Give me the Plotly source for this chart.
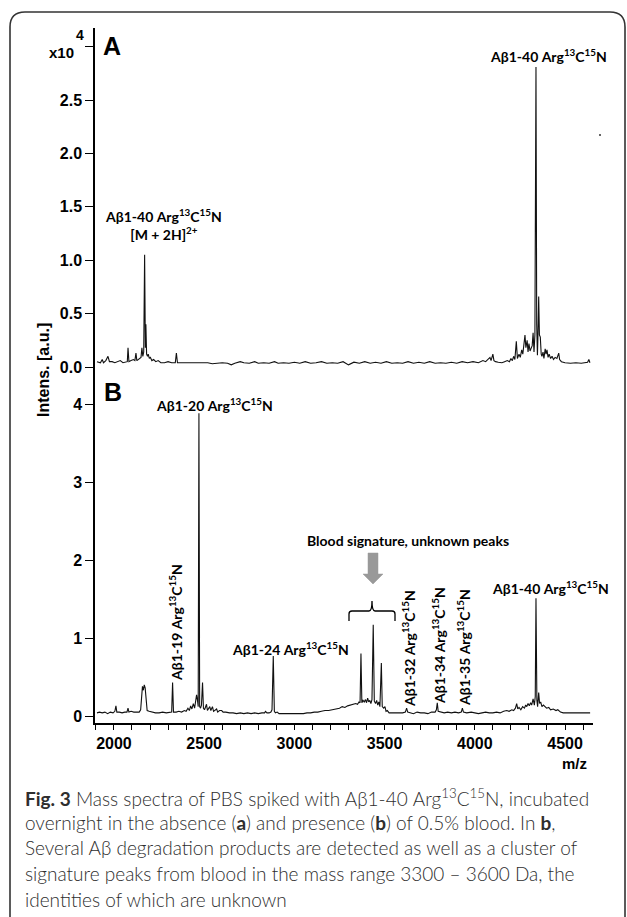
import plotly.graph_objects as go

W, H = 627, 917

# ---------------- data ----------------
# Panel A: intensity in units of 1e4 a.u.
spec_A = [
    (1906, 0.05), (1925, 0.04), (1935, 0.07), (1942, 0.04), (1955, 0.06), (1967, 0.10), (1975, 0.05),
    (1990, 0.05), (2005, 0.04), (2020, 0.05), (2035, 0.06), (2050, 0.04), (2065, 0.05), (2074, 0.05),
    (2078, 0.18), (2083, 0.05), (2095, 0.06), (2108, 0.07), (2116, 0.06), (2122, 0.13), (2127, 0.06),
    (2140, 0.08), (2150, 0.09), (2155, 0.18), (2160, 0.10), (2165, 0.14), (2170, 1.05), (2174, 0.18),
    (2177, 0.40), (2181, 0.12), (2186, 0.10), (2190, 0.12), (2196, 0.08), (2202, 0.09), (2210, 0.06),
    (2220, 0.07), (2232, 0.05), (2245, 0.06), (2260, 0.04), (2280, 0.04), (2300, 0.05), (2320, 0.04),
    (2340, 0.04), (2346, 0.13), (2352, 0.04), (2375, 0.04), (2400, 0.04), (2430, 0.035), (2460, 0.04),
    (2490, 0.035), (2520, 0.04), (2545, 0.03), (2570, 0.035), (2600, 0.04), (2630, 0.035), (2650, 0.02),
    (2670, 0.035), (2700, 0.05), (2720, 0.04), (2750, 0.035), (2780, 0.05), (2800, 0.035), (2830, 0.04),
    (2860, 0.035), (2890, 0.05), (2910, 0.035), (2940, 0.04), (2970, 0.035), (3000, 0.045), (3030, 0.035),
    (3060, 0.05), (3090, 0.035), (3120, 0.04), (3150, 0.05), (3180, 0.035), (3210, 0.04), (3240, 0.035),
    (3270, 0.05), (3300, 0.02), (3330, 0.045), (3360, 0.035), (3390, 0.05), (3420, 0.035), (3450, 0.045),
    (3480, 0.035), (3510, 0.05), (3540, 0.035), (3570, 0.04), (3600, 0.035), (3630, 0.05), (3660, 0.035),
    (3690, 0.045), (3720, 0.035), (3750, 0.05), (3780, 0.035), (3810, 0.04), (3840, 0.035), (3870, 0.045),
    (3900, 0.035), (3930, 0.05), (3960, 0.04), (3990, 0.05), (4020, 0.04), (4045, 0.06), (4060, 0.05),
    (4075, 0.07), (4084, 0.09), (4090, 0.06), (4100, 0.12), (4106, 0.06), (4115, 0.05), (4130, 0.045),
    (4150, 0.04), (4165, 0.05), (4180, 0.06), (4192, 0.05), (4200, 0.08), (4208, 0.06), (4215, 0.10),
    (4222, 0.07), (4230, 0.24), (4236, 0.08), (4245, 0.12), (4252, 0.09), (4260, 0.16), (4266, 0.12),
    (4272, 0.20), (4278, 0.30), (4283, 0.18), (4290, 0.25), (4295, 0.14), (4300, 0.22), (4306, 0.15),
    (4312, 0.18), (4318, 0.20), (4323, 0.32), (4328, 0.14), (4333, 0.30), (4339, 2.81), (4343, 0.40),
    (4347, 0.11), (4350, 0.30), (4354, 0.66), (4358, 0.30), (4363, 0.28), (4368, 0.12), (4372, 0.10),
    (4378, 0.14), (4383, 0.08), (4390, 0.17), (4395, 0.12), (4400, 0.16), (4406, 0.09), (4412, 0.12),
    (4420, 0.08), (4428, 0.10), (4436, 0.07), (4445, 0.09), (4455, 0.08), (4465, 0.13), (4470, 0.07),
    (4480, 0.05), (4500, 0.04), (4530, 0.035), (4560, 0.04), (4590, 0.035), (4610, 0.04), (4625, 0.045),
    (4632, 0.07), (4638, 0.04),
]

# Panel B: intensity in units of 1e4 a.u.
spec_B = [
    (1906, 0.04), (1920, 0.05), (1935, 0.04), (1950, 0.05), (1965, 0.03), (1980, 0.05), (1995, 0.04),
    (2005, 0.06), (2011, 0.13), (2016, 0.05), (2030, 0.05), (2045, 0.04), (2060, 0.05), (2072, 0.05),
    (2078, 0.10), (2083, 0.05), (2095, 0.06), (2110, 0.05), (2125, 0.05), (2140, 0.05), (2148, 0.08),
    (2154, 0.30), (2158, 0.38), (2163, 0.33), (2168, 0.40), (2173, 0.36), (2178, 0.15), (2184, 0.07),
    (2195, 0.06), (2210, 0.05), (2230, 0.04), (2250, 0.04), (2270, 0.05), (2290, 0.04), (2310, 0.05),
    (2320, 0.05), (2325, 0.43), (2330, 0.05), (2345, 0.05), (2360, 0.06), (2375, 0.05), (2390, 0.07),
    (2400, 0.06), (2410, 0.10), (2418, 0.07), (2425, 0.13), (2432, 0.09), (2440, 0.16), (2447, 0.10),
    (2453, 0.18), (2458, 0.27), (2463, 0.20), (2467, 0.12), (2471, 3.88), (2475, 0.12), (2480, 0.10),
    (2485, 0.14), (2491, 0.43), (2496, 0.10), (2502, 0.08), (2508, 0.12), (2513, 0.15), (2518, 0.07),
    (2525, 0.09), (2531, 0.12), (2537, 0.07), (2546, 0.12), (2552, 0.06), (2560, 0.08), (2569, 0.09),
    (2575, 0.05), (2585, 0.07), (2597, 0.07), (2605, 0.05), (2620, 0.05), (2640, 0.04), (2660, 0.04),
    (2680, 0.03), (2700, 0.04), (2720, 0.03), (2740, 0.04), (2760, 0.03), (2780, 0.04), (2800, 0.03),
    (2820, 0.04), (2835, 0.04), (2840, 0.06), (2848, 0.04), (2860, 0.04), (2870, 0.05), (2876, 0.08),
    (2883, 0.77), (2889, 0.06), (2895, 0.04), (2905, 0.05), (2915, 0.03), (2930, 0.03), (2960, 0.03),
    (2990, 0.03), (3020, 0.03), (3050, 0.03), (3070, 0.04), (3090, 0.04), (3110, 0.05), (3130, 0.05),
    (3150, 0.06), (3170, 0.07), (3190, 0.07), (3210, 0.08), (3230, 0.09), (3250, 0.10), (3265, 0.12),
    (3280, 0.11), (3295, 0.13), (3310, 0.14), (3325, 0.15), (3340, 0.16), (3350, 0.15), (3358, 0.18),
    (3364, 0.17), (3369, 0.80), (3374, 0.17), (3380, 0.20), (3387, 0.18), (3394, 0.21), (3400, 0.17),
    (3406, 0.23), (3412, 0.18), (3418, 0.20), (3424, 0.16), (3430, 0.21), (3437, 1.17), (3443, 0.19),
    (3450, 0.16), (3456, 0.20), (3462, 0.14), (3468, 0.18), (3474, 0.12), (3482, 0.68), (3487, 0.12),
    (3495, 0.10), (3502, 0.12), (3508, 0.06), (3515, 0.07), (3525, 0.04), (3550, 0.04), (3580, 0.04),
    (3600, 0.04), (3615, 0.05), (3622, 0.10), (3628, 0.05), (3640, 0.04), (3660, 0.03), (3680, 0.05),
    (3700, 0.04), (3720, 0.04), (3740, 0.03), (3760, 0.05), (3780, 0.05), (3787, 0.08), (3792, 0.17),
    (3797, 0.06), (3810, 0.05), (3830, 0.04), (3850, 0.05), (3870, 0.04), (3890, 0.05), (3910, 0.04),
    (3925, 0.05), (3931, 0.10), (3937, 0.05), (3955, 0.04), (3980, 0.05), (4000, 0.04), (4020, 0.03),
    (4040, 0.04), (4060, 0.05), (4080, 0.04), (4100, 0.04), (4120, 0.05), (4140, 0.04), (4160, 0.06),
    (4177, 0.07), (4190, 0.06), (4205, 0.08), (4215, 0.07), (4225, 0.10), (4232, 0.16), (4238, 0.09),
    (4245, 0.11), (4255, 0.08), (4265, 0.12), (4275, 0.10), (4282, 0.14), (4288, 0.12), (4295, 0.16),
    (4302, 0.13), (4309, 0.17), (4315, 0.14), (4323, 0.22), (4330, 0.14), (4335, 0.25), (4339, 1.51),
    (4344, 0.20), (4348, 0.12), (4354, 0.30), (4359, 0.16), (4365, 0.18), (4372, 0.12), (4380, 0.14),
    (4389, 0.12), (4398, 0.10), (4410, 0.11), (4420, 0.08), (4435, 0.09), (4450, 0.07), (4460, 0.08),
    (4475, 0.05), (4490, 0.04), (4520, 0.04), (4560, 0.04), (4600, 0.04), (4639, 0.04),
]

x_major_ticks = [2000, 2500, 3000, 3500, 4000, 4500]
x_major_labels = ["2000", "2500", "3000", "3500", "4000", "4500"]
x_minor_ticks = list(range(1900, 4700, 100))
yA_ticks = [0.0, 0.5, 1.0, 1.5, 2.0, 2.5, 3.0]
yA_labels = ["0.0", "0.5", "1.0", "1.5", "2.0", "2.5", ""]
yB_ticks = [0, 1, 2, 3, 4]
yB_labels = ["0", "1", "2", "3", "4"]

mzA = [p[0] for p in spec_A]
intA = [p[1] for p in spec_A]
mzB = [p[0] for p in spec_B]
intB = [p[1] for p in spec_B]

# ---------------- helpers: pixel -> paper ----------------
def px(x):
    return x / W


def py(y):
    return 1 - y / H


AX = "Liberation Sans, Arial, sans-serif"
LBL = "Lato, Open Sans, sans-serif"

fig = go.Figure()
fig.add_trace(go.Scatter(x=mzA, y=intA, xaxis="x2", yaxis="y2", mode="lines",
                         line=dict(color="#111111", width=1.1), hoverinfo="skip", showlegend=False))
fig.add_trace(go.Scatter(x=mzB, y=intB, xaxis="x", yaxis="y", mode="lines",
                         line=dict(color="#111111", width=1.1), hoverinfo="skip", showlegend=False))

tickfont = dict(family=AX, size=16, color="black", weight="bold")
xdom = [px(95), px(593)]
xrange_ = [1895, 4655]

fig.update_layout(
    width=W, height=H, autosize=False,
    margin=dict(l=0, r=0, t=0, b=0),
    paper_bgcolor="white", plot_bgcolor="white",
    showlegend=False,
    xaxis=dict(domain=xdom, range=xrange_, anchor="y", showline=True, linecolor="black", linewidth=1.5,
               ticks="outside", ticklen=5, tickwidth=1.3, tickcolor="black",
               tickmode="array", tickvals=x_major_ticks, ticktext=x_major_labels, tickfont=tickfont,
               minor=dict(tickmode="array", tickvals=x_minor_ticks, ticks="outside", ticklen=5,
                          tickwidth=1.3, tickcolor="black", showgrid=False),
               showgrid=False, zeroline=False, automargin=False),
    xaxis2=dict(domain=xdom, range=xrange_, anchor="y2", matches="x", visible=False),
    yaxis=dict(domain=[py(723), py(370)], range=[(716 - 723) / 78, (716 - 370) / 78], anchor="x",
               showline=True, linecolor="black", linewidth=1.5,
               ticks="outside", ticklen=8, tickwidth=1.3, tickcolor="black",
               tickmode="array", tickvals=yB_ticks, ticktext=yB_labels, tickfont=tickfont,
               showgrid=False, zeroline=False, automargin=False),
    yaxis2=dict(domain=[py(370), py(28)], range=[(367 - 370) / 106.8, (367 - 28) / 106.8], anchor="x2",
                showline=True, linecolor="black", linewidth=1.5,
                ticks="outside", ticklen=8, tickwidth=1.3, tickcolor="black",
                tickmode="array", tickvals=yA_ticks, ticktext=yA_labels, tickfont=tickfont,
                showgrid=False, zeroline=False, automargin=False),
)

ann = []


def text(x, y, t, size=14, family=LBL, weight="bold", color="black", angle=0, xanchor="center"):
    ann.append(dict(x=px(x), y=py(y), xref="paper", yref="paper", text=t, showarrow=False,
                    xanchor=xanchor, yanchor="middle", textangle=angle,
                    font=dict(family=family, size=size, color=color, weight=weight)))


AB = "Aβ1-{} Arg<sup>13</sup>C<sup>15</sup>N"
# panel letters and axis labels
text(112, 46, "A", size=25, family=AX)
text(113, 392, "B", size=25, family=AX)
text(61, 52, "x10", size=15, family=AX)
text(80, 35, "4", size=14, family=AX)
text(43, 370, "Intens. [a.u.]", size=16, family=AX, angle=-90)
text(574, 763, "m/z", size=15, family=AX)

# panel A annotations
text(548, 55, AB.format(40))
text(163, 225, AB.format(40) + "<br>[M + 2H]<sup>2+</sup>")

# panel B annotations
text(215, 404, AB.format(20))
text(175, 623, AB.format(19), angle=-90)
text(290, 648, AB.format(24))
text(408, 540, "Blood signature, unknown peaks")
text(408, 648, AB.format(32), angle=-90)
text(438, 646, AB.format(34), angle=-90)
text(463, 648, AB.format(35), angle=-90)
text(550, 587, AB.format(40))

# caption
cap = [
    "<b>Fig. 3</b> Mass spectra of PBS spiked with Aβ1-40 Arg<sup>13</sup>C<sup>15</sup>N, incubated",
    "overnight in the absence (<b>a</b>) and presence (<b>b</b>) of 0.5% blood. In <b>b</b>,",
    "Several Aβ degradation products are detected as well as a cluster of",
    "signature peaks from blood in the mass range 3300 – 3600 Da, the",
    "identities of which are unknown",
]
cap_y = [797, 822, 847, 873, 899]
for t, yy in zip(cap, cap_y):
    text(23, yy, t, size=19, family=LBL, weight=300, color="#2e2e2e", xanchor="left")

fig.update_layout(annotations=ann)

shapes = []
# rounded outer border (bottom runs off the page)
r = 15
bx0, by0, bx1, by1 = 10, 12, 625, 940
path = (f"M {px(bx0)},{py(by1)} L {px(bx0)},{py(by0 + r)} Q {px(bx0)},{py(by0)} {px(bx0 + r)},{py(by0)} "
        f"L {px(bx1 - r)},{py(by0)} Q {px(bx1)},{py(by0)} {px(bx1)},{py(by0 + r)} L {px(bx1)},{py(by1)}")
shapes.append(dict(type="path", path=path, xref="paper", yref="paper", line=dict(color="#333333", width=1.6)))

# grey arrow
ar = [(368, 553), (378, 553), (378, 574), (383, 574), (373, 584), (363, 574), (368, 574)]
apath = "M " + " L ".join(f"{px(a)},{py(b)}" for a, b in ar) + " Z"
shapes.append(dict(type="path", path=apath, xref="paper", yref="paper", fillcolor="#999999",
                   line=dict(color="#999999", width=0.5)))

# brace
br = (f"M {px(349)},{py(621)} L {px(349)},{py(614)} Q {px(349)},{py(611)} {px(352)},{py(611)} "
      f"L {px(369)},{py(611)} Q {px(372)},{py(611)} {px(372)},{py(601)} "
      f"Q {px(372)},{py(611)} {px(375)},{py(611)} L {px(392)},{py(611)} "
      f"Q {px(395)},{py(611)} {px(395)},{py(614)} L {px(395)},{py(621)}")
shapes.append(dict(type="path", path=br, xref="paper", yref="paper", line=dict(color="black", width=1.3)))

# stray dot at upper right of panel A
shapes.append(dict(type="circle", xref="paper", yref="paper", x0=px(599), x1=px(601), y0=py(136), y1=py(134),
                   fillcolor="#333333", line=dict(width=0)))

fig.update_layout(shapes=shapes)
fig.write_html("out.html", config={"displayModeBar": False},
               post_script="document.body.style.margin='0px';")
